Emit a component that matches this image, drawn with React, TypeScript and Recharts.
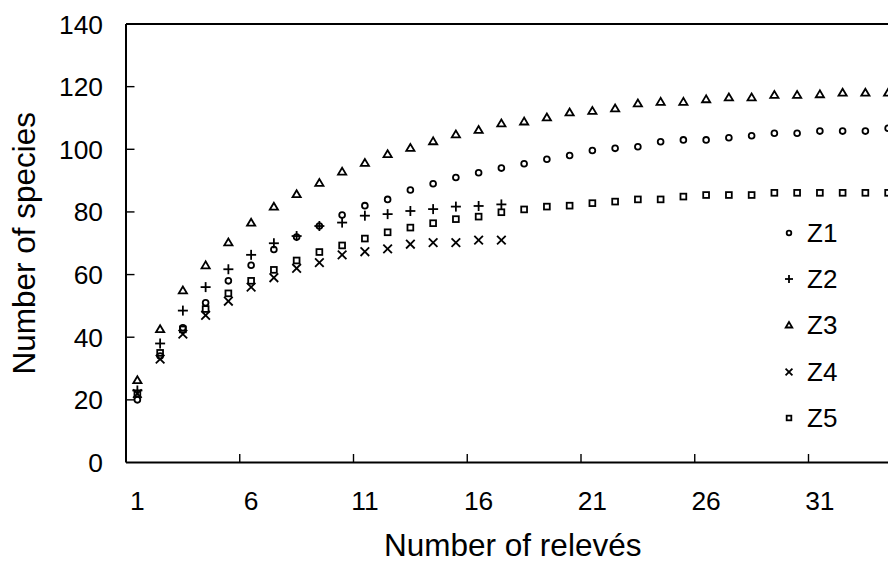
import React from 'react';
import { ScatterChart, Scatter, XAxis, YAxis, ReferenceLine, Legend, Label } from 'recharts';

// ---------- data ----------
const releves = [1, 2, 3, 4, 5, 6, 7, 8, 9, 10, 11, 12, 13, 14, 15, 16, 17, 18, 19, 20, 21, 22, 23, 24, 25, 26, 27, 28, 29, 30, 31, 32, 33, 34];

const z1Values = [20, 34, 43, 51, 58, 63, 68, 72, 75.5, 79, 82, 84, 87, 89, 91, 92.5, 94, 95.4, 96.8, 98, 99.6, 100.3, 100.8, 102.4, 103, 103, 103.7, 104.3, 105.1, 105.1, 105.8, 105.8, 105.8, 106.7];
const z2Values = [23, 38, 48.5, 56, 61.7, 66.3, 70, 72.3, 75.5, 76.6, 78.8, 79.3, 80.3, 80.9, 81.7, 81.9, 82.4];
const z3Values = [26.3, 42.6, 55, 63, 70.3, 76.6, 81.7, 85.7, 89.3, 92.9, 95.7, 98.5, 100.5, 102.6, 104.8, 106.2, 108.3, 108.9, 110.2, 111.8, 112.3, 113.1, 114.7, 115.2, 115.2, 116, 116.6, 116.6, 117.4, 117.4, 117.6, 118.1, 118.1, 118.1];
const z4Values = [22, 33, 41, 47, 51.5, 56, 59, 62, 63.8, 66.3, 67.3, 68.2, 69.7, 70.2, 70.2, 71, 71];
const z5Values = [22, 35, 42.5, 49, 54, 58, 61.5, 64.5, 67.2, 69.3, 71.5, 73.5, 75, 76.4, 77.7, 78.5, 79.9, 80.8, 81.7, 82, 82.8, 83.3, 84, 84, 84.9, 85.4, 85.4, 85.4, 86.1, 86.1, 86.1, 86.1, 86.1, 86.1];

const seriesNames = ['Z1', 'Z2', 'Z3', 'Z4', 'Z5'];
const xTicks = [1, 6, 11, 16, 21, 26, 31];
const yTicks = [0, 20, 40, 60, 80, 100, 120, 140];
const xTitle = 'Number of relevés';
const yTitle = 'Number of species';

// ---------- layout ----------
const FONT = '"Liberation Sans", Arial, Helvetica, sans-serif';
const CHART_W = 910;
const CHART_H = 574;
const MARGIN = { top: 24, right: 10.5, bottom: 0, left: 0 };
const YAXIS_W = 126;
const XAXIS_H = 111.5;
const X_DOMAIN: [number, number] = [0.5, 34.5];
const PLOT_W = CHART_W - MARGIN.left - MARGIN.right - YAXIS_W;
const CAT_W = PLOT_W / (X_DOMAIN[1] - X_DOMAIN[0]);

const toPoints = (vals: number[]) => vals.map((v, i) => ({ x: releves[i], y: v }));

// ---------- markers ----------
const SW = 1.8;
type MP = { cx: number; cy: number; s?: number };
const CircleMark = ({ cx, cy, s = 1 }: MP) => (
  <circle cx={cx} cy={cy} r={2.9 * s} fill="none" stroke="#000" strokeWidth={SW} />
);
const PlusMark = ({ cx, cy, s = 1 }: MP) => (
  <g stroke="#000" strokeWidth={SW}>
    <line x1={cx - 5 * s} x2={cx + 5 * s} y1={cy} y2={cy} />
    <line x1={cx} x2={cx} y1={cy - 5 * s} y2={cy + 5 * s} />
  </g>
);
const TriMark = ({ cx, cy, s = 1 }: MP) => (
  <polygon
    points={`${cx},${cy - 3.8 * s} ${cx - 4.1 * s},${cy + 3.1 * s} ${cx + 4.1 * s},${cy + 3.1 * s}`}
    fill="none"
    stroke="#000"
    strokeWidth={SW}
    strokeLinejoin="miter"
  />
);
const CrossMark = ({ cx, cy, s = 1 }: MP) => (
  <g stroke="#000" strokeWidth={SW}>
    <line x1={cx - 4.3 * s} x2={cx + 4.3 * s} y1={cy - 4.3 * s} y2={cy + 4.3 * s} />
    <line x1={cx - 4.3 * s} x2={cx + 4.3 * s} y1={cy + 4.3 * s} y2={cy - 4.3 * s} />
  </g>
);
const SquareMark = ({ cx, cy, s = 1 }: MP) => (
  <rect x={cx - 2.9 * s} y={cy - 2.9 * s} width={5.8 * s} height={5.8 * s} fill="none" stroke="#000" strokeWidth={SW} />
);

const markers = [CircleMark, PlusMark, TriMark, CrossMark, SquareMark];
const seriesValues = [z1Values, z2Values, z3Values, z4Values, z5Values];

// ---------- ticks ----------
const XTick = (props: any) => {
  const { x, y, payload } = props;
  const bx = x - CAT_W / 2;
  return (
    <g>
      {payload.value !== xTicks[0] && (
        <line x1={bx} x2={bx} y1={y} y2={y - 8.5} stroke="#000" strokeWidth={1.4} />
      )}
      <text x={x} y={y + 47.5} textAnchor="middle" fontSize={26.4} fontFamily={FONT} fill="#000">
        {payload.value}
      </text>
    </g>
  );
};

const YTick = (props: any) => {
  const { x, y, payload } = props;
  return (
    <g>
      {payload.value !== yTicks[0] && payload.value !== yTicks[yTicks.length - 1] && (
        <line x1={x} x2={x + 8.5} y1={y} y2={y} stroke="#000" strokeWidth={1.4} />
      )}
      <text x={x - 23} y={y} dy="0.36em" textAnchor="end" fontSize={26.4} fontFamily={FONT} fill="#000">
        {payload.value}
      </text>
    </g>
  );
};

// ---------- legend ----------
const LegendBox = () => (
  <div style={{ fontFamily: FONT, fontSize: 26, color: '#000' }}>
    {seriesNames.map((name, i) => {
      const M = markers[i];
      return (
        <div key={name} style={{ height: 46.2, display: 'flex', alignItems: 'center' }}>
          <svg width={28} height={20} style={{ display: 'block' }}>
            <M cx={14} cy={10} s={0.8} />
          </svg>
          <span style={{ marginLeft: 4, lineHeight: 1 }}>{name}</span>
        </div>
      );
    })}
  </div>
);

export default function App() {
  return (
    <div style={{ position: 'absolute', left: 0, top: 0, width: 888, height: 574, overflow: 'hidden', background: '#fff' }}>
      <ScatterChart width={CHART_W} height={CHART_H} margin={MARGIN}>
        <XAxis
          type="number"
          dataKey="x"
          domain={X_DOMAIN}
          ticks={xTicks}
          interval={0}
          height={XAXIS_H}
          tickSize={0}
          tickMargin={0}
          tickLine={false}
          axisLine={{ stroke: '#000', strokeWidth: 2 }}
          tick={<XTick />}
        >
          <Label value={xTitle} position="insideBottom" offset={18} style={{ fontSize: 31.5, fontFamily: FONT, fill: '#000' }} />
        </XAxis>
        <YAxis
          type="number"
          dataKey="y"
          domain={[0, 140]}
          ticks={yTicks}
          interval={0}
          width={YAXIS_W}
          tickSize={0}
          tickMargin={0}
          tickLine={false}
          axisLine={{ stroke: '#000', strokeWidth: 2 }}
          tick={<YTick />}
        >
          <Label
            value={yTitle}
            angle={-90}
            position="insideLeft"
            offset={24}
            style={{ fontSize: 31.5, fontFamily: FONT, fill: '#000', textAnchor: 'middle' }}
          />
        </YAxis>
        <ReferenceLine y={140} stroke="#000" strokeWidth={2} ifOverflow="visible" />
        <ReferenceLine x={34.5} stroke="#000" strokeWidth={2} ifOverflow="visible" />
        {seriesNames.map((name, i) => {
          const M = markers[i];
          return (
            <Scatter
              key={name}
              name={name}
              data={toPoints(seriesValues[i])}
              isAnimationActive={false}
              shape={(p: any) => <M cx={p.cx} cy={p.cy} />}
            />
          );
        })}
        <Legend
          layout="horizontal"
          verticalAlign="middle"
          align="center"
          content={() => <LegendBox />}
          wrapperStyle={{ position: 'absolute', left: 775, top: 210, width: 100, height: 240 }}
        />
      </ScatterChart>
    </div>
  );
}
